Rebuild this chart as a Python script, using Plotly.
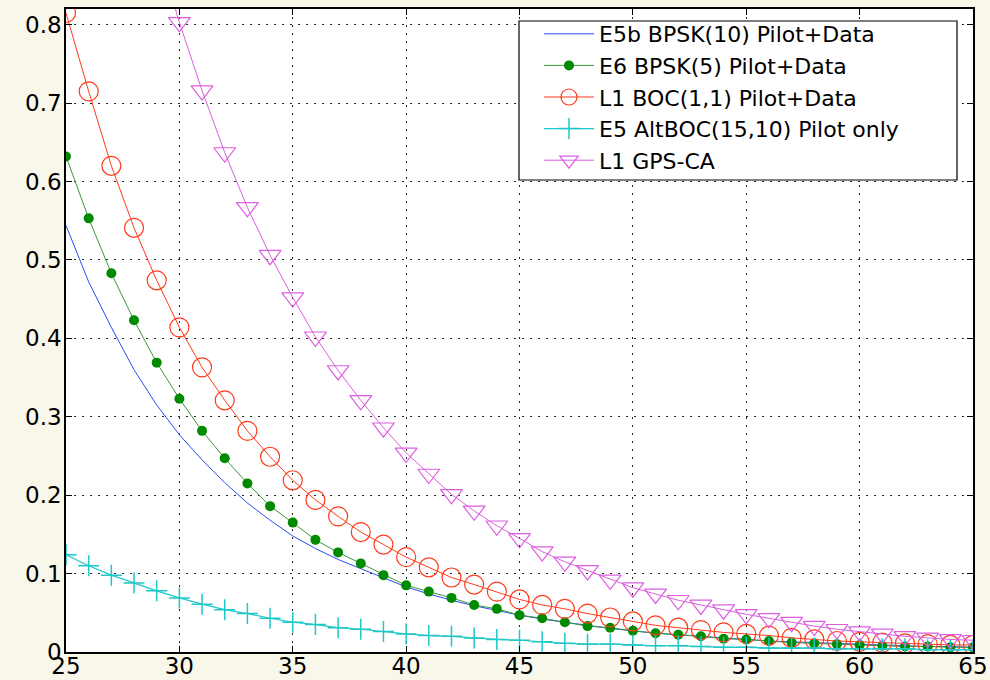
import plotly.graph_objects as go

x_vals = list(range(25, 66))

e5b_bpsk10 = [0.544, 0.472, 0.414, 0.360, 0.315, 0.277, 0.245, 0.216, 0.190, 0.168,
              0.148, 0.132, 0.118, 0.106, 0.094, 0.083, 0.074, 0.066, 0.059, 0.053,
              0.047, 0.042, 0.038, 0.034, 0.030, 0.027, 0.024, 0.022, 0.020, 0.018,
              0.016, 0.014, 0.013, 0.012, 0.011, 0.010, 0.009, 0.008, 0.007, 0.007, 0.006]

e6_bpsk5 = [0.632, 0.553, 0.483, 0.423, 0.369, 0.323, 0.282, 0.247, 0.215, 0.186,
            0.165, 0.143, 0.127, 0.113, 0.098, 0.085, 0.077, 0.069, 0.060, 0.055,
            0.047, 0.043, 0.038, 0.033, 0.031, 0.027, 0.024, 0.022, 0.020, 0.017,
            0.016, 0.014, 0.012, 0.011, 0.010, 0.009, 0.008, 0.007, 0.007, 0.006, 0.006]

l1_boc11 = [0.815, 0.715, 0.620, 0.541, 0.474, 0.414, 0.363, 0.321, 0.282, 0.249,
            0.219, 0.194, 0.173, 0.153, 0.137, 0.121, 0.108, 0.095, 0.086, 0.077,
            0.067, 0.060, 0.055, 0.049, 0.044, 0.039, 0.034, 0.031, 0.028, 0.025,
            0.023, 0.021, 0.018, 0.016, 0.014, 0.013, 0.012, 0.011, 0.010, 0.009, 0.009]

e5_altboc = [0.124, 0.110, 0.098, 0.088, 0.078, 0.069, 0.061, 0.054, 0.049, 0.043,
             0.038, 0.035, 0.031, 0.029, 0.026, 0.023, 0.021, 0.020, 0.018, 0.016,
             0.015, 0.013, 0.011, 0.010, 0.010, 0.009, 0.008, 0.008, 0.007, 0.006,
             0.006, 0.005, 0.005, 0.005, 0.004, 0.004, 0.004, 0.004, 0.003, 0.003, 0.003]

l1_gps_ca = [1.42, 1.26, 1.12, 1.01, 0.90, 0.803, 0.716, 0.637, 0.567, 0.506,
             0.452, 0.402, 0.359, 0.321, 0.286, 0.254, 0.227, 0.201, 0.180, 0.161,
             0.145, 0.128, 0.115, 0.104, 0.092, 0.082, 0.074, 0.066, 0.060, 0.054,
             0.048, 0.043, 0.038, 0.033, 0.029, 0.026, 0.023, 0.020, 0.018, 0.016, 0.015]

names = ["E5b BPSK(10) Pilot+Data", "E6 BPSK(5) Pilot+Data", "L1 BOC(1,1) Pilot+Data",
         "E5 AltBOC(15,10) Pilot only", "L1 GPS-CA"]

x_ticks = [25, 30, 35, 40, 45, 50, 55, 60, 65]
y_ticks = [0, 0.1, 0.2, 0.3, 0.4, 0.5, 0.6, 0.7, 0.8]

BLUE = "#2a4cf5"
GREEN = "#008a00"
RED = "#ff3a1a"
CYAN = "#1ec8c8"
MAGENTA = "#dc5ee0"

fig = go.Figure()
fig.add_trace(go.Scatter(x=x_vals, y=e5b_bpsk10, name=names[0], mode="lines",
                         line=dict(color=BLUE, width=1)))
fig.add_trace(go.Scatter(x=x_vals, y=e6_bpsk5, name=names[1], mode="lines+markers",
                         line=dict(color="#3a9a3a", width=1),
                         marker=dict(symbol="circle", size=10, color=GREEN)))
fig.add_trace(go.Scatter(x=x_vals, y=l1_boc11, name=names[2], mode="lines+markers",
                         line=dict(color=RED, width=1),
                         marker=dict(symbol="circle-open", size=19, color=RED,
                                     line=dict(width=1.2, color=RED))))
fig.add_trace(go.Scatter(x=x_vals, y=e5_altboc, name=names[3], mode="lines+markers",
                         line=dict(color=CYAN, width=1.2),
                         marker=dict(symbol="cross-thin", size=15, color=CYAN,
                                     line=dict(width=1.5, color=CYAN))))
fig.add_trace(go.Scatter(x=x_vals, y=l1_gps_ca, name=names[4], mode="lines+markers",
                         line=dict(color=MAGENTA, width=1),
                         marker=dict(symbol="triangle-down-open", size=19, color=MAGENTA,
                                     line=dict(width=1.2, color=MAGENTA))))

axis_common = dict(
    showline=True, linecolor="black", linewidth=1.5, mirror="ticks",
    ticks="inside", ticklen=6, tickcolor="black", tickwidth=1,
    showgrid=True, gridcolor="#262626", gridwidth=1, griddash="2px,6px",
    zeroline=False, automargin=False,
    tickfont=dict(family="DejaVu Sans", size=23, color="black"),
)

fig.update_xaxes(range=[25, 65], tickvals=x_ticks, ticktext=[str(v) for v in x_ticks],
                 ticklabelstandoff=-7, **axis_common)
fig.update_yaxes(range=[0, 0.82], tickvals=y_ticks,
                 ticktext=["0" if v == 0 else f"{v:.1f}" for v in y_ticks],
                 ticklabelstandoff=-2, **axis_common)

fig.update_layout(
    template="none",
    width=990, height=680,
    margin=dict(l=66, r=17, t=9, b=28, pad=0),
    paper_bgcolor="#f8f7ea",
    plot_bgcolor="white",
    font=dict(family="DejaVu Sans", color="black"),
    showlegend=True,
    legend=dict(
        x=(539 - 66) / 907, y=(652 - 13) / 643, xanchor="left", yanchor="top",
        bgcolor="rgba(0,0,0,0)", borderwidth=0,
        font=dict(family="DejaVu Sans", size=22, color="black"),
        itemwidth=50, tracegroupgap=0,
    ),
    shapes=[dict(type="rect", xref="paper", yref="paper",
                 x0=(519 - 66) / 907, x1=(957 - 66) / 907,
                 y0=(652 - 180) / 643, y1=(652 - 21) / 643,
                 fillcolor="white", line=dict(color="black", width=1.2),
                 layer="above")],
)

fig.write_html("out.html", config={"displayModeBar": False},
               post_script="document.body.style.margin='0';document.body.style.overflow='hidden';")
